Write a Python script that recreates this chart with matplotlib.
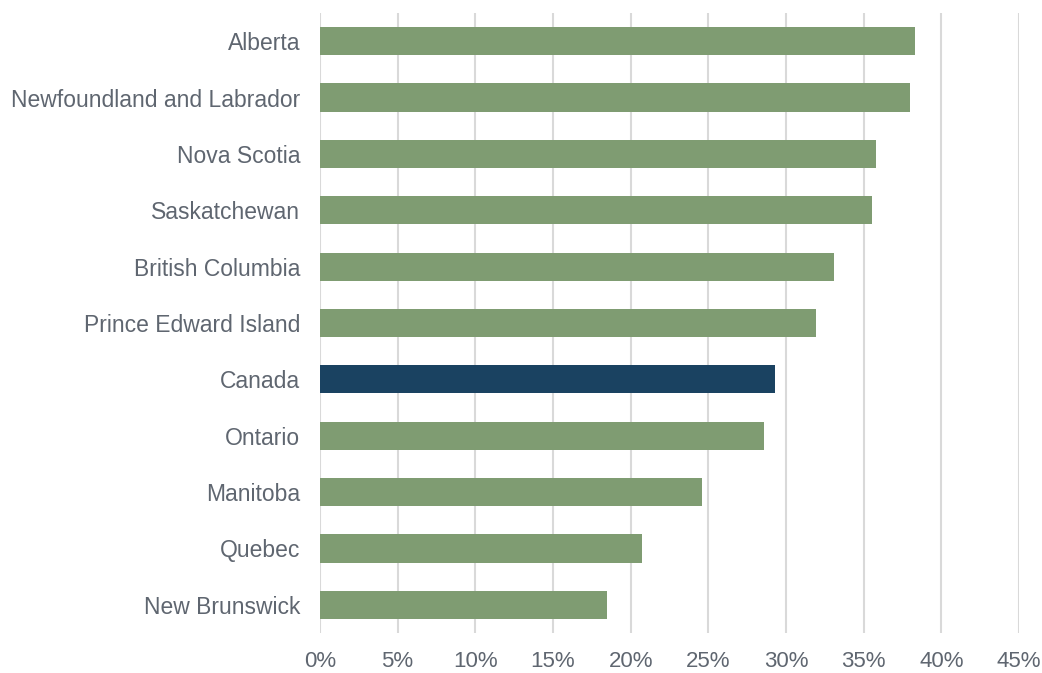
import matplotlib.pyplot as plt
from matplotlib.ticker import FuncFormatter

provinces = ["Alberta", "Newfoundland and Labrador", "Nova Scotia", "Saskatchewan",
             "British Columbia", "Prince Edward Island", "Canada", "Ontario",
             "Manitoba", "Quebec", "New Brunswick"]
share = [38.3, 38.0, 35.8, 35.55, 33.1, 31.9, 29.3, 28.6, 24.6, 20.7, 18.5]

green = "#7f9c72"
navy = "#1a4261"
text_col = "#5f6670"
colors = [navy if p == "Canada" else green for p in provinces]

plt.rcParams["font.family"] = ["Liberation Sans", "DejaVu Sans"]

fig = plt.figure(figsize = (10.42, 6.73), dpi = 100)
ax = fig.add_axes([0.307, 0.0594, 0.671, 0.9213])

ax.grid(which = "major", axis = "x", color = "#d9d9d9", linewidth = 1.5, zorder = 0)
ax.barh(range(len(provinces)), share, height = 0.5, color = colors, zorder = 3)

ax.set_xlim(0, 45)
ax.set_ylim(10.5, -0.5)
ax.set_xticks(range(0, 46, 5))
ax.xaxis.set_major_formatter(FuncFormatter(lambda v, p: f"{v:.0f}%"))
ax.set_yticks(range(len(provinces)))
ax.set_yticklabels(provinces)

for s in ax.spines.values():
    s.set_visible(False)
ax.tick_params(axis = "y", length = 0, labelsize = 16.5, labelcolor = text_col, pad = 14)
ax.tick_params(axis = "x", length = 0, labelsize = 16, labelcolor = text_col, pad = 13)

fig.savefig("out.png", dpi = 100)
